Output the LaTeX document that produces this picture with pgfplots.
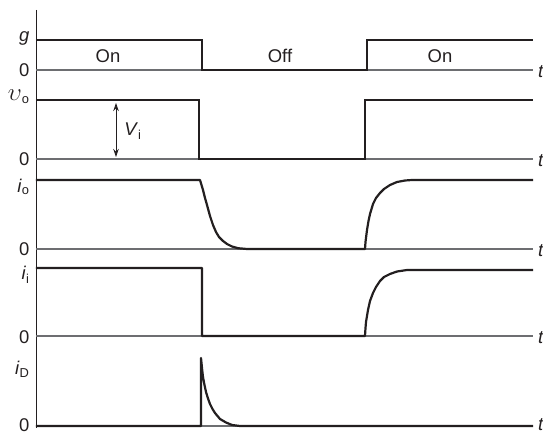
\documentclass[border=0pt]{standalone}
\usepackage{pgfplots}
\pgfplotsset{compat=1.18}
\usetikzlibrary{arrows.meta}
\usepackage{fontspec}
\setmainfont{Liberation Sans}
\definecolor{ink}{HTML}{231F20}
\definecolor{zeroline}{HTML}{6D6E71}

\begin{document}
\begin{tikzpicture}
\begin{axis}[
    x=1bp, y=1bp, y dir=reverse,
    xmin=36, xmax=533, ymin=10, ymax=428,
    axis x line=none, axis y line=left,
    axis line style={-, ink, line width=0.9bp},
    xtick=\empty,
    ytick={38,70,97,159,187,249,275,337,369,425},
    yticklabels={\textit{g},0,{{\fontsize{24}{24}\selectfont$\upsilon$}\textsubscript{o}},0,\textit{i}\textsubscript{o},0,\textit{i}\textsubscript{i},0,\textit{i}\textsubscript{D},0},
    major tick length=0pt,
    yticklabel style={font=\fontsize{18.5}{22}\selectfont, text=ink, xshift=-3bp},
    clip=false]
  % zero lines
  \foreach \z in {70,159,249,336,426}{
    \edef\tmp{\noexpand\addplot[zeroline, line width=1.1bp] coordinates {(36,\z) (533,\z)};}\tmp
  }
  % g
  \addplot[ink, line width=2.2bp] coordinates {(36,40) (202,40) (202,70) (367,70) (367,40) (533,40)};
  % v_o
  \addplot[ink, line width=2.2bp] coordinates {(36,100) (199,100) (199,159) (365,159) (365,100) (533,100)};
  % i_o
  \addplot[ink, line width=2.2bp, line join=round] coordinates {
    (36,180) (200,180) (201.5,185) (203,190) (205,198) (207,205) (210,216) (213,225)
    (216,232) (219,237) (223,241) (227,244) (232,246.5) (238,248.2) (247,249) (365,249)
    (365.5,242) (366,238) (367,230) (368.5,221) (370,214) (373,204) (376,198) (380,193)
    (384,189) (390,185) (397,182) (405,180.5) (412,180) (533,180)};
  % i_i
  \addplot[ink, line width=2.2bp, line join=round] coordinates {
    (36,268) (202,268) (202,336) (365,336) (365.5,328) (366,322) (368,310) (370,301)
    (373,293) (376,287) (380,281) (384,277) (390,274) (397,271.5) (407,270) (533,270)};
  % i_D
  \addplot[ink, line width=2.2bp, line join=round] coordinates {
    (36,426) (201,426) (201,358) (202,368) (203,377) (204.5,385) (206,392) (208,398.5)
    (210,404) (212.5,409) (215,413) (220,419) (226,422.5) (232,425) (240,426) (533,426)};
  % V_i arrow
  \addplot[ink, line width=0.9bp, {Stealth[length=8bp,width=5.5bp]}-{Stealth[length=8bp,width=5.5bp]}] coordinates {(116,103) (116,157)};
  \node[font=\fontsize{18.5}{22}\selectfont, text=ink] at (axis cs:133,131) {\textit{V}\textsubscript{i}};
  % state labels
  \node[font=\fontsize{18.5}{22}\selectfont, text=ink] at (axis cs:108,56) {On};
  \node[font=\fontsize{18.5}{22}\selectfont, text=ink] at (axis cs:280,56) {Off};
  \node[font=\fontsize{18.5}{22}\selectfont, text=ink] at (axis cs:440,56) {On};
  % time labels
  \foreach \z in {72,161,251,338,425}{
    \edef\tmp{\noexpand\node[font=\noexpand\fontsize{18.5}{22}\noexpand\selectfont, text=ink, anchor=west, inner sep=0pt] at (axis cs:538,\z) {\noexpand\textit{t}};}\tmp
  }
  \coordinate (BL) at (axis cs:0,434);
  \coordinate (TR) at (axis cs:543,0);
\end{axis}
\pgfresetboundingbox
\path[use as bounding box] (BL) rectangle (TR);
\end{tikzpicture}
\end{document}
